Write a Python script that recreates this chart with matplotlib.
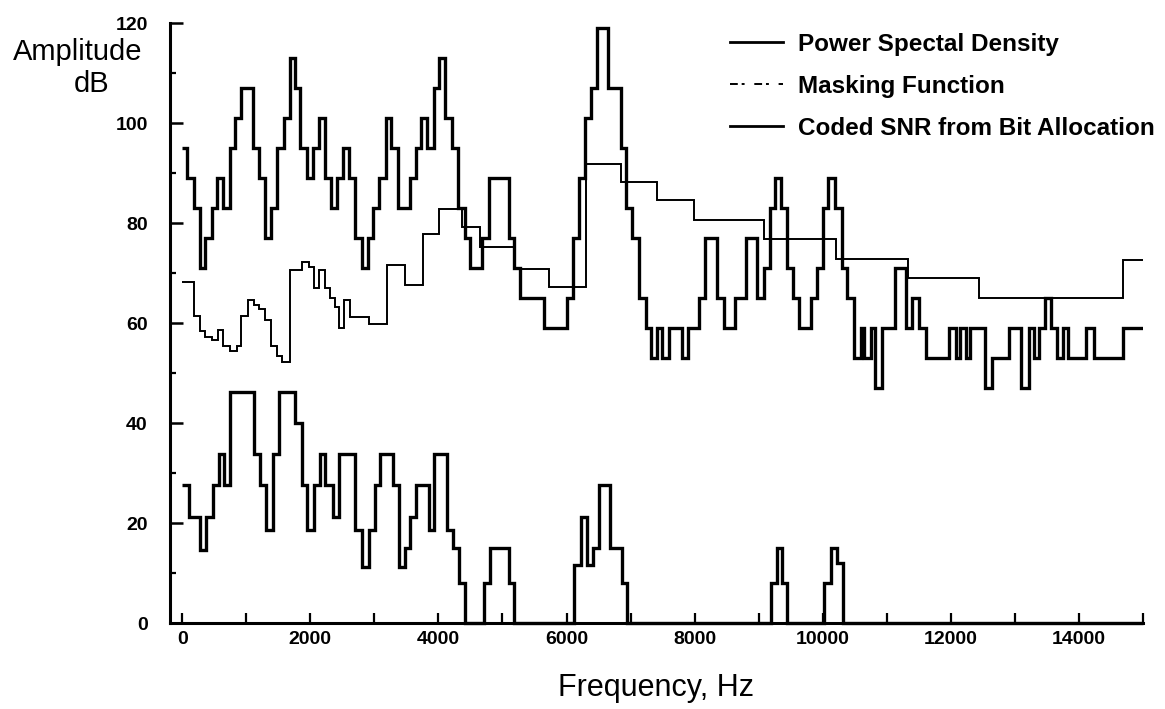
import matplotlib
matplotlib.use('Agg')
import matplotlib.pyplot as plt
from matplotlib.lines import Line2D
from matplotlib.ticker import MultipleLocator

plt.rcParams['font.family'] = ['Liberation Sans', 'DejaVu Sans']

# power spectral density: bin edges (Hz) and level in each bin (dB)
psd_edges = [0, 80, 177, 281, 359, 464, 542, 636, 740, 828,
             922, 1099, 1203, 1297, 1391, 1479, 1583, 1677, 1766, 1844,
             1948, 2042, 2130, 2224, 2323, 2417, 2510, 2609, 2703, 2807,
             2906, 2974, 3078, 3182, 3266, 3365, 3562, 3651, 3734, 3823,
             3927, 4016, 4109, 4214, 4307, 4411, 4500, 4682, 4786, 5099,
             5177, 5271, 5646, 6010, 6104, 6193, 6281, 6375, 6479, 6646,
             6844, 6922, 7026, 7130, 7234, 7323, 7417, 7495, 7599, 7807,
             7895, 8068, 8156, 8354, 8458, 8625, 8797, 8979, 9083, 9172,
             9255, 9344, 9448, 9536, 9630, 9812, 9917, 10010, 10089, 10193,
             10297, 10385, 10490, 10594, 10646, 10750, 10818, 10932, 11130, 11297,
             11401, 11505, 11609, 11974, 12078, 12146, 12234, 12302, 12540, 12640,
             12911, 13094, 13224, 13302, 13380, 13474, 13562, 13656, 13745, 13823,
             14109, 14240, 14682, 15000]
psd_db = [95, 89, 83, 71, 77, 83, 89, 83, 95, 101,
          107, 95, 89, 77, 83, 95, 101, 113, 107, 95,
          89, 95, 101, 89, 83, 89, 95, 89, 77, 71,
          77, 83, 89, 101, 95, 83, 89, 95, 101, 95,
          107, 113, 101, 95, 83, 77, 71, 77, 89, 77,
          71, 65, 59, 65, 77, 89, 101, 107, 119, 107,
          95, 83, 77, 65, 59, 53, 59, 53, 59, 53,
          59, 65, 77, 65, 59, 65, 77, 65, 71, 83,
          89, 83, 71, 65, 59, 65, 71, 83, 89, 83,
          71, 65, 53, 59, 53, 59, 47, 59, 71, 59,
          65, 59, 53, 59, 53, 59, 53, 59, 47, 53,
          59, 47, 59, 53, 59, 65, 59, 53, 59, 53,
          59, 53, 59]

# masking function
mask_edges = [0, 177, 281, 359, 464, 552, 636, 740, 850, 917,
              1021, 1115, 1193, 1297, 1391, 1479, 1560, 1677, 1870, 1974,
              2052, 2130, 2234, 2313, 2391, 2443, 2521, 2625, 2911, 3198,
              3474, 3755, 4016, 4370, 4656, 5177, 5724, 6297, 6844, 7417,
              7990, 9083, 10203, 11339, 12443, 14682, 15000]
mask_db = [68.3, 61.5, 58.5, 57.3, 56.6, 58.6, 55.5, 54.5, 55.5, 61.4,
           64.6, 63.6, 62.9, 60.6, 55.5, 53.5, 52.3, 70.6, 72.3, 71.3,
           67, 70.6, 67, 65, 63.3, 59, 64.6, 61.3, 59.9, 71.6,
           67.6, 77.9, 82.9, 79.3, 75.3, 70.9, 67.3, 91.9, 88.3, 84.6,
           80.6, 76.9, 72.9, 69.1, 65.1, 72.7]

# coded SNR from bit allocation
snr_edges = [0, 99, 281, 370, 479, 568, 646, 740, 1115, 1208,
             1313, 1417, 1505, 1766, 1870, 1948, 2052, 2156, 2234, 2354,
             2443, 2703, 2807, 2911, 3016, 3094, 3286, 3380, 3484, 3563,
             3656, 3849, 3938, 4135, 4229, 4318, 4422, 4708, 4812, 5099,
             5188, 6115, 6219, 6313, 6417, 6505, 6677, 6870, 6948, 9188,
             9292, 9370, 9448, 10021, 10125, 10229, 10323, 15000]
snr_db = [27.6, 21.3, 14.6, 21.3, 27.6, 33.9, 27.6, 46.3, 33.9, 27.6,
          18.6, 33.9, 46.3, 40, 27.6, 18.6, 27.6, 33.9, 27.6, 21.3,
          33.9, 18.6, 11.3, 18.6, 27.6, 33.9, 27.6, 11.3, 15, 21.3,
          27.6, 18.6, 33.9, 18.6, 15, 8, 0, 8, 15, 8,
          0, 11.6, 21.3, 11.6, 15, 27.6, 15, 8, 0, 8,
          15, 8, 0, 8, 15, 12, 0]

labels = ['Power Spectal Density', 'Masking Function', 'Coded SNR from Bit Allocation']

W, H = 1165, 709
fig = plt.figure(figsize=(W / 100, H / 100), dpi=100)
ax = fig.add_axes([170 / W, 1 - 623 / H, (1143 - 170) / W, 600 / H])

ax.stairs(psd_db, psd_edges, baseline=None, color='black', lw=2.4)
ax.stairs(mask_db, mask_edges, baseline=None, color='black', lw=1.4)
ax.stairs(snr_db, snr_edges, baseline=None, color='black', lw=2.4, clip_on=False)

ax.set_xlim(-190, 15000)
ax.set_ylim(0, 120)
for s in ['top', 'right']:
    ax.spines[s].set_visible(False)
for s in ['left', 'bottom']:
    ax.spines[s].set_linewidth(2.2)

ax.xaxis.set_major_locator(MultipleLocator(2000))
ax.xaxis.set_minor_locator(MultipleLocator(1000))
ax.yaxis.set_major_locator(MultipleLocator(20))
ax.yaxis.set_minor_locator(MultipleLocator(10))
ax.tick_params(axis='x', which='both', direction='in', length=7, width=1.6, pad=6, labelsize=14)
ax.tick_params(axis='y', which='major', direction='in', length=9.5, width=1.8, pad=16, labelsize=14)
ax.tick_params(axis='y', which='minor', direction='in', length=4, width=1.6)
plt.setp(ax.get_xticklabels() + ax.get_yticklabels(), fontweight='bold')

fig.text(78 / W, 1 - 52 / H, 'Amplitude', ha='center', va='center', fontsize=21)
fig.text(92 / W, 1 - 84 / H, 'dB', ha='center', va='center', fontsize=21)
fig.text(656 / W, 1 - 688 / H, 'Frequency, Hz', ha='center', va='center', fontsize=22)

handles = [Line2D([], [], color='black', lw=2.0),
           Line2D([], [], color='black', lw=1.4, ls=(0, (4, 2, 1.5, 5))),
           Line2D([], [], color='black', lw=2.0)]
ax.legend(handles, labels, loc='upper left', bbox_to_anchor=(730 / W, 1 - 33 / H),
          bbox_transform=fig.transFigure, frameon=False,
          prop={'weight': 'bold', 'size': 17.5}, handlelength=2.2,
          handletextpad=0.6, labelspacing=0.78, borderpad=0, borderaxespad=0)

fig.savefig('out.png', dpi=100)
